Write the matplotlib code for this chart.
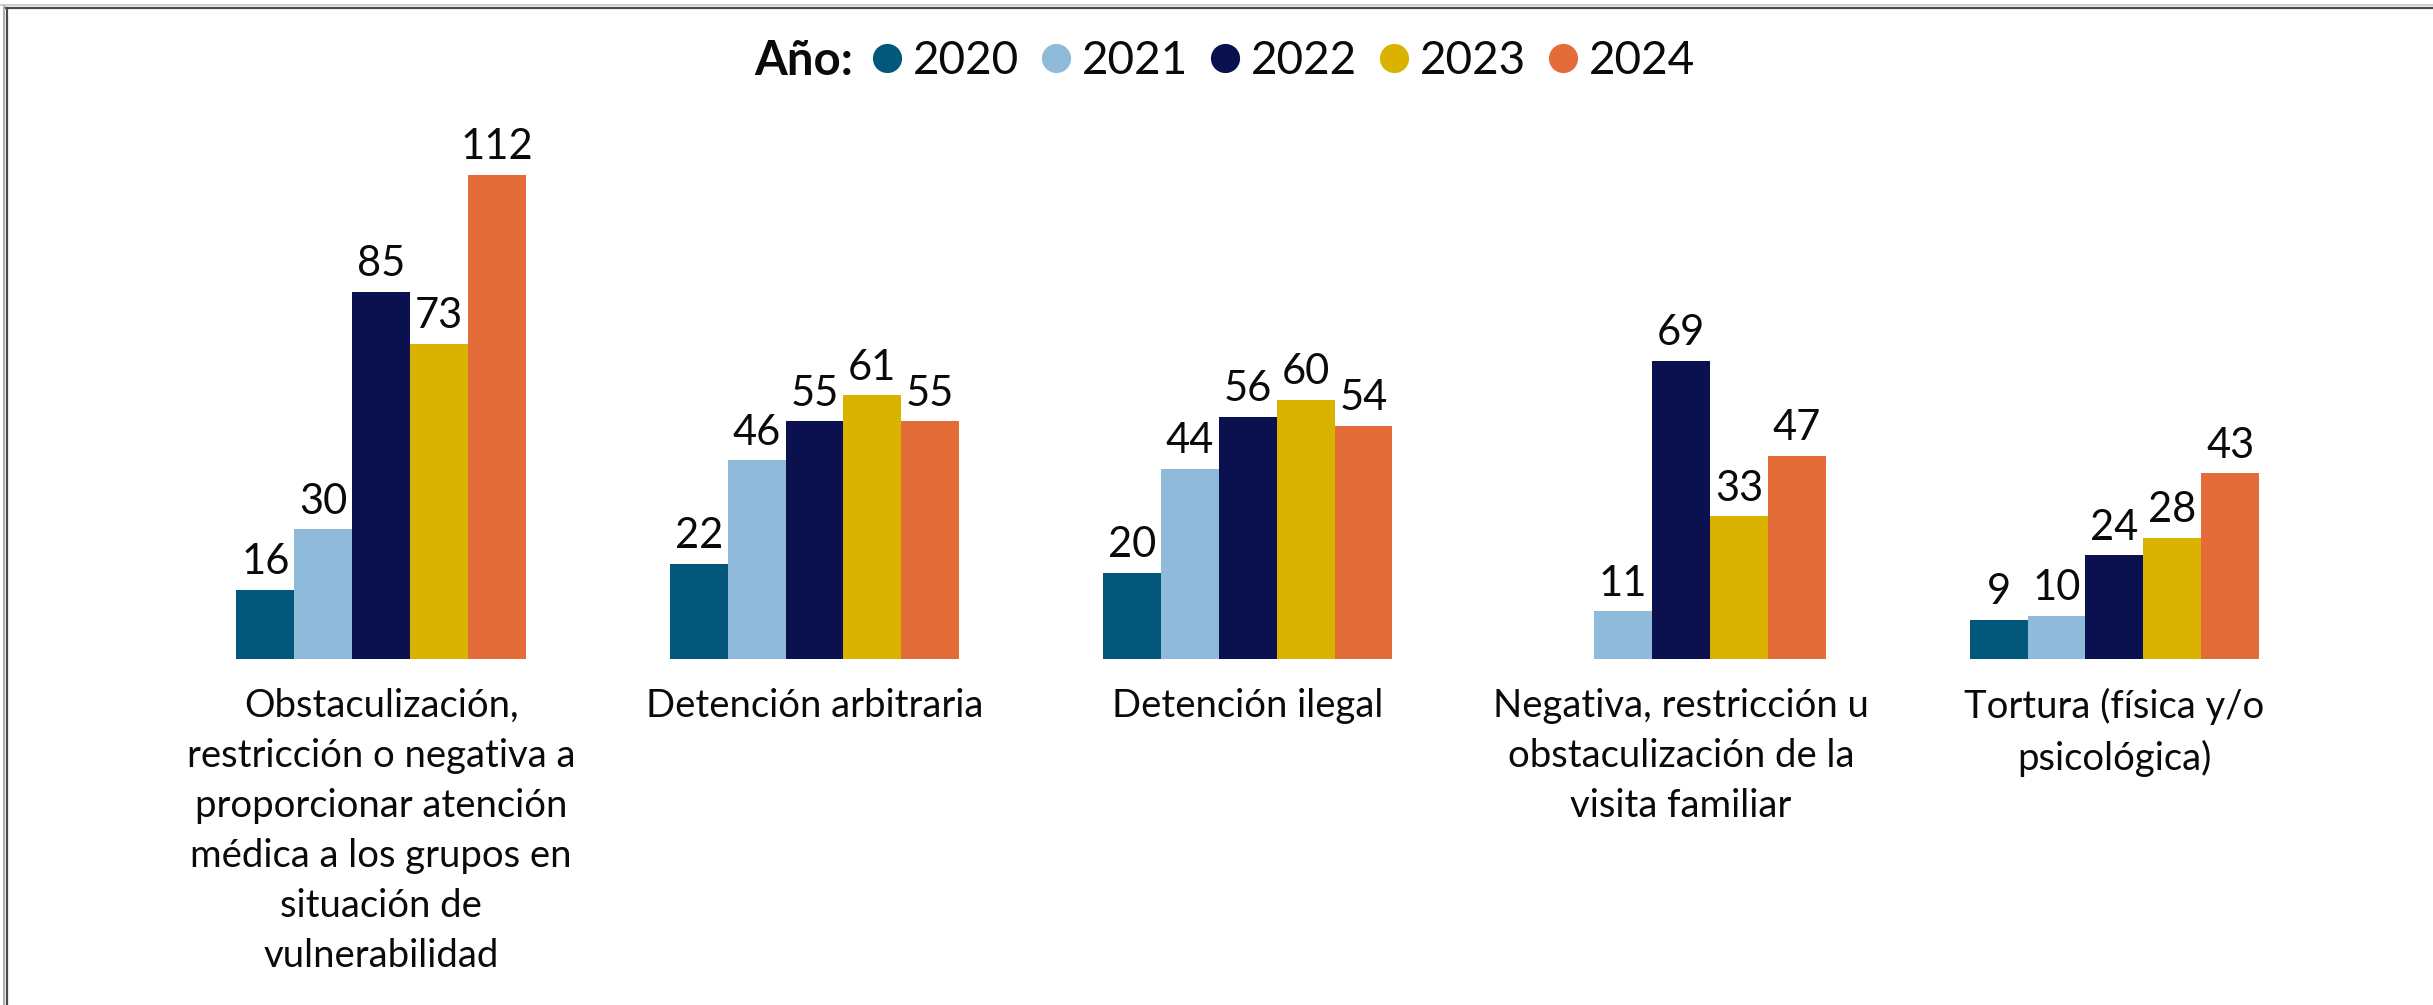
import matplotlib
matplotlib.use("Agg")
import matplotlib.pyplot as plt
import numpy as np
from matplotlib.lines import Line2D

plt.rcParams['font.family'] = ['Lato', 'DejaVu Sans']

categories = [
    "Obstaculización,\nrestricción o negativa a\nproporcionar atención\nmédica a los grupos en\nsituación de\nvulnerabilidad",
    "Detención arbitraria",
    "Detención ilegal",
    "Negativa, restricción u\nobstaculización de la\nvisita familiar",
    "Tortura (física y/o\npsicológica)",
]
years = ["2020", "2021", "2022", "2023", "2024"]
values_2020 = [16, 22, 20, np.nan, 9]
values_2021 = [30, 46, 44, 11, 10]
values_2022 = [85, 55, 56, 69, 24]
values_2023 = [73, 61, 60, 33, 28]
values_2024 = [112, 55, 54, 47, 43]
colors = ["#02577A", "#8FBADA", "#0B114E", "#D9B300", "#E46C39"]

series = [values_2020, values_2021, values_2022, values_2023, values_2024]

W, H = 2433, 1005
fig = plt.figure(figsize=(W / 100, H / 100), dpi=100)
fig.patch.set_facecolor("white")

ymax = 120
ax = fig.add_axes([164.5 / W, 346 / H, 2166.5 / W, ymax * 4.32 / H])
ax.set_xlim(-0.5, len(categories) - 0.5)
ax.set_ylim(0, ymax)
ax.axis("off")

x = np.arange(len(categories))
bar_w = 0.1336
for j, (vals, col) in enumerate(zip(series, colors)):
    pos = x + (j - 2) * bar_w
    ax.bar(pos, vals, width=bar_w, color=col, edgecolor="none")
    for px, v in zip(pos, vals):
        if np.isnan(v):
            continue
        ax.annotate(f"{v:.0f}", xy=(px, v), xytext=(0, 11.3), textcoords="offset points",
                    ha="center", va="baseline", fontsize=30, color="#0a0a0a")

# category names under each group
for i, name in enumerate(categories):
    ax.annotate(name, xy=(i, 0), xytext=(0, -21), textcoords="offset points",
                ha="center", va="top", fontsize=27.5, color="#0a0a0a",
                linespacing=1.48, annotation_clip=False)

# legend row across the top
handles = [Line2D([], [], linestyle="none", marker="o", markersize=21,
                  markerfacecolor=c, markeredgecolor="none") for c in colors]
fig.text(853 / W, 1 - 61 / H, "Año:", ha="right", va="center",
         fontsize=34, fontweight="bold", color="#0a0a0a")
fig.legend(handles, years, loc="center left", bbox_to_anchor=(873 / W, 1 - 61 / H),
           ncol=5, frameon=False, fontsize=33, handlelength=0.62, handletextpad=0.25,
           columnspacing=0.5, borderpad=0, borderaxespad=0, labelcolor="#0a0a0a")

# thin frame at the top and left edges
fig.add_artist(Line2D([0, 1], [1 - 5 / H, 1 - 5 / H], transform=fig.transFigure,
                      color="#d0d0d0", linewidth=1.5))
fig.add_artist(Line2D([6 / W, 1], [1 - 8 / H, 1 - 8 / H], transform=fig.transFigure,
                      color="#4a4a4a", linewidth=1.6))
fig.add_artist(Line2D([4 / W, 4 / W], [0, 1 - 6 / H], transform=fig.transFigure,
                      color="#b0b0b0", linewidth=1.5))
fig.add_artist(Line2D([6.5 / W, 6.5 / W], [0, 1 - 8 / H], transform=fig.transFigure,
                      color="#4a4a4a", linewidth=1.6))

fig.savefig("out.png", dpi=100)
